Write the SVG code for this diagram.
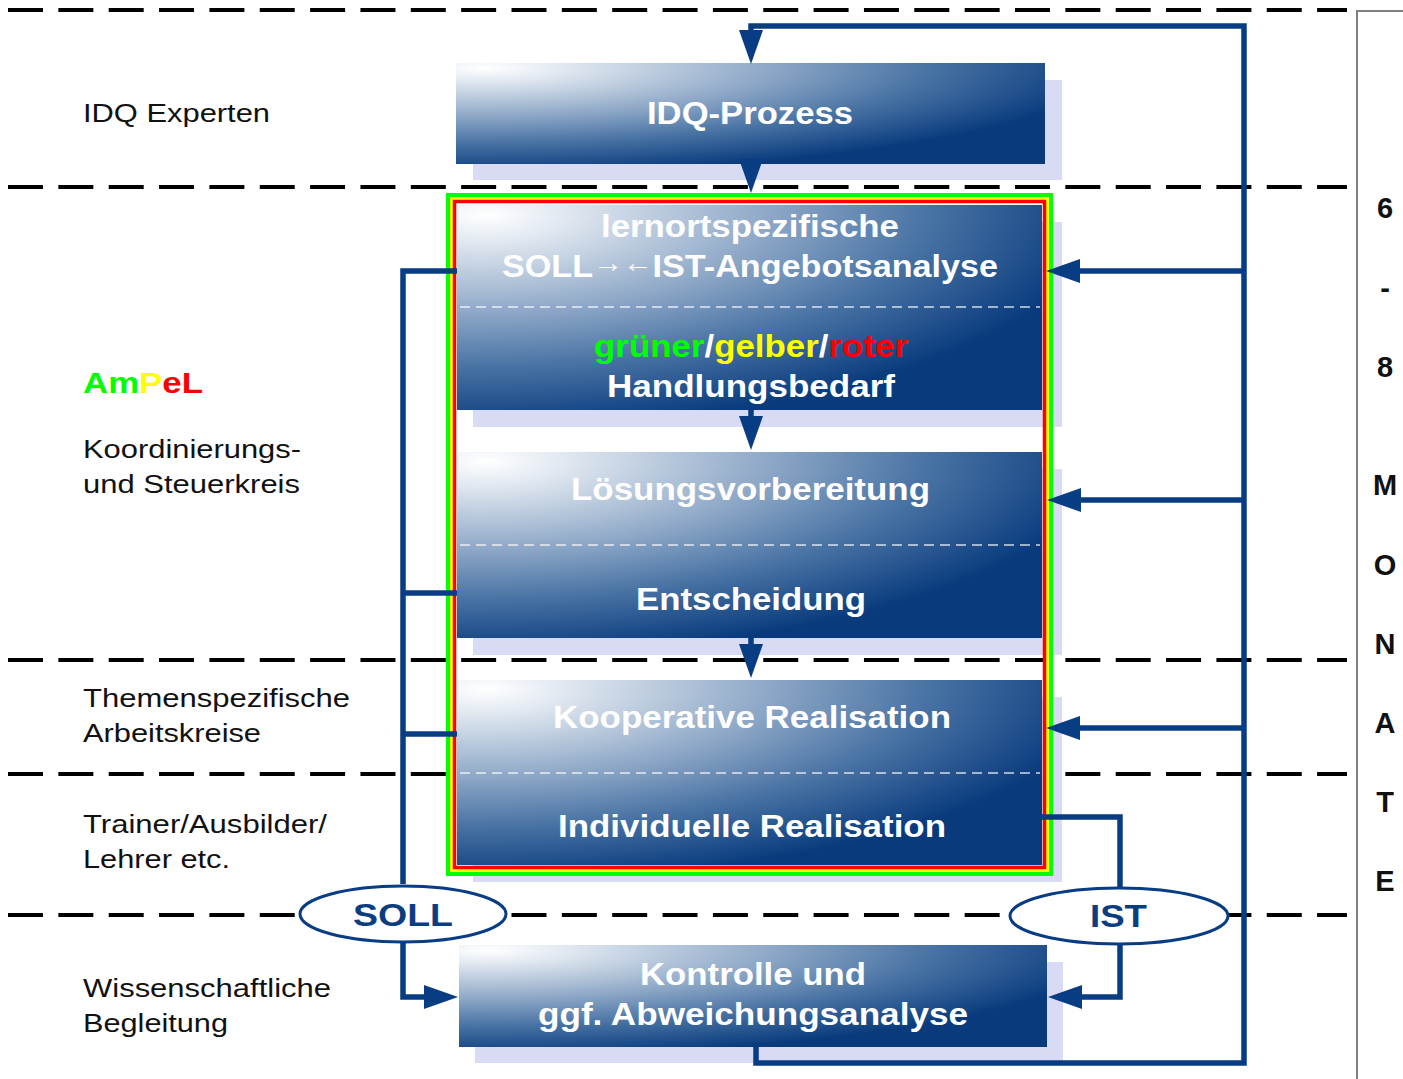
<svg xmlns="http://www.w3.org/2000/svg" width="1403" height="1079" viewBox="0 0 1403 1079">
<defs>
<style>
.lane{stroke:#000;stroke-width:4;stroke-dasharray:35 15.35;fill:none}
.shadow{fill:#d9dbf5}
.box{fill:url(#boxFill)}
.sep{stroke:#ffffff;stroke-opacity:0.8;stroke-width:1.5;stroke-dasharray:10 6;fill:none}
.bt{font-family:"Liberation Sans",Arial,sans-serif;font-weight:bold;font-size:31px;fill:#fff}
.lt{font-family:"Liberation Sans",Arial,sans-serif;font-size:26px;fill:#111}
.mt{font-family:"Liberation Sans",Arial,sans-serif;font-weight:bold;font-size:29px;fill:#111;text-anchor:middle}
.et{font-family:"Liberation Sans",Arial,sans-serif;font-weight:bold;font-size:32px;fill:#0b3d80}
.con{stroke:#083d84;stroke-width:5.5;fill:none}
.ell{fill:#fff;stroke:#083d84;stroke-width:3}
</style>
<radialGradient id="boxFill" cx="0.02" cy="0" r="1.1" fx="0.05" fy="0.05">
<stop offset="0" stop-color="#ffffff"/>
<stop offset="0.12" stop-color="#e2e9f1"/>
<stop offset="0.45" stop-color="#8ea8c7"/>
<stop offset="0.72" stop-color="#4570a2"/>
<stop offset="1" stop-color="#083a7c"/>
</radialGradient>
<marker id="ah" markerUnits="userSpaceOnUse" markerWidth="34" markerHeight="24" refX="14" refY="12" orient="auto">
<path d="M0,0 L34,12 L0,24 z" fill="#083d84"/>
</marker>
</defs>
<rect width="1403" height="1079" fill="#fff"/>

<g id="lanes">
<line class="lane" x1="8" y1="10" x2="1347" y2="10"/>
<line class="lane" x1="8" y1="187" x2="1347" y2="187"/>
<line class="lane" x1="8" y1="660" x2="1347" y2="660"/>
<line class="lane" x1="8" y1="774" x2="1347" y2="774"/>
<line class="lane" x1="8" y1="915" x2="1347" y2="915"/>
<path d="M1403,11 H1357 V1079" stroke="#808080" stroke-width="2" fill="none"/>
</g>

<g id="lane-labels">
<text class="lt" x="83" y="122" textLength="187" lengthAdjust="spacingAndGlyphs">IDQ Experten</text>
<text x="83" y="393" textLength="120" lengthAdjust="spacingAndGlyphs" style="font-family:'Liberation Sans',Arial,sans-serif;font-weight:bold;font-size:30px"><tspan fill="#00ff00">Am</tspan><tspan fill="#ffff00">P</tspan><tspan fill="#ff0000">eL</tspan></text>
<text class="lt" x="83" y="458" textLength="218" lengthAdjust="spacingAndGlyphs">Koordinierungs-</text>
<text class="lt" x="83" y="493" textLength="217" lengthAdjust="spacingAndGlyphs">und Steuerkreis</text>
<text class="lt" x="83" y="707" textLength="267" lengthAdjust="spacingAndGlyphs">Themenspezifische</text>
<text class="lt" x="83" y="742" textLength="178" lengthAdjust="spacingAndGlyphs">Arbeitskreise</text>
<text class="lt" x="83" y="833" textLength="244" lengthAdjust="spacingAndGlyphs">Trainer/Ausbilder/</text>
<text class="lt" x="83" y="868" textLength="147" lengthAdjust="spacingAndGlyphs">Lehrer etc.</text>
<text class="lt" x="83" y="997" textLength="248" lengthAdjust="spacingAndGlyphs">Wissenschaftliche</text>
<text class="lt" x="83" y="1032" textLength="145" lengthAdjust="spacingAndGlyphs">Begleitung</text>
</g>

<g id="months">
<text class="mt" x="1385" y="218">6</text>
<text class="mt" x="1385" y="298">-</text>
<text class="mt" x="1385" y="377">8</text>
<text class="mt" x="1385" y="495">M</text>
<text class="mt" x="1385" y="575">O</text>
<text class="mt" x="1385" y="654">N</text>
<text class="mt" x="1385" y="733">A</text>
<text class="mt" x="1385" y="812">T</text>
<text class="mt" x="1385" y="891">E</text>
</g>

<g id="node-idq">
<rect class="shadow" x="473" y="80" width="589" height="100"/>
<rect class="box" x="456" y="63" width="589" height="101"/>
<text class="bt" x="647" y="124" textLength="206" lengthAdjust="spacingAndGlyphs">IDQ-Prozess</text>
</g>

<g id="node-analyse">
<rect class="shadow" x="473" y="222" width="589" height="205"/>
<rect class="box" x="457" y="205" width="585" height="205"/>
<line class="sep" x1="460" y1="307" x2="1040" y2="307"/>
<text class="bt" x="601" y="237" textLength="298" lengthAdjust="spacingAndGlyphs">lernortspezifische</text>
<text class="bt" x="502" y="277" textLength="496" lengthAdjust="spacingAndGlyphs">SOLL<tspan font-size="27" dy="-5">→</tspan><tspan font-size="27">←</tspan><tspan dy="5">IST-Angebotsanalyse</tspan></text>
<text class="bt" x="594" y="357" textLength="314" lengthAdjust="spacingAndGlyphs"><tspan fill="#00ff00">grüner</tspan>/<tspan fill="#ffff00">gelber</tspan>/<tspan fill="#ff0000">roter</tspan></text>
<text class="bt" x="607" y="397" textLength="288" lengthAdjust="spacingAndGlyphs">Handlungsbedarf</text>
</g>

<g id="node-loesung">
<rect class="shadow" x="473" y="469" width="589" height="186"/>
<rect class="box" x="457" y="452" width="585" height="186"/>
<line class="sep" x1="460" y1="545" x2="1040" y2="545"/>
<text class="bt" x="571" y="500" textLength="359" lengthAdjust="spacingAndGlyphs">Lösungsvorbereitung</text>
<text class="bt" x="636" y="610" textLength="230" lengthAdjust="spacingAndGlyphs">Entscheidung</text>
</g>

<g id="node-realisation">
<rect class="shadow" x="473" y="697" width="589" height="185"/>
<rect class="box" x="457" y="680" width="585" height="185"/>
<line class="sep" x1="460" y1="773" x2="1040" y2="773"/>
<text class="bt" x="553" y="728" textLength="398" lengthAdjust="spacingAndGlyphs">Kooperative Realisation</text>
<text class="bt" x="558" y="837" textLength="388" lengthAdjust="spacingAndGlyphs">Individuelle Realisation</text>
</g>

<g id="ampel-frame">
<rect x="448" y="195" width="603" height="679" fill="none" stroke="#00ff00" stroke-width="4"/>
<rect x="451.5" y="198.5" width="596" height="672" fill="none" stroke="#ffff00" stroke-width="3"/>
<rect x="454.5" y="201.5" width="590" height="666" fill="none" stroke="#ff0000" stroke-width="3.5"/>
</g>

<g id="node-kontrolle">
<rect class="shadow" x="475" y="962" width="588" height="101"/>
<rect class="box" x="459" y="945" width="588" height="102"/>
<text class="bt" x="640" y="985" textLength="226" lengthAdjust="spacingAndGlyphs">Kontrolle und</text>
<text class="bt" x="538" y="1025" textLength="430" lengthAdjust="spacingAndGlyphs">ggf. Abweichungsanalyse</text>
</g>

<g id="connectors">
<path class="con" d="M756,1047 V1063 H1244 V26 H751 V44" marker-end="url(#ah)"/>
<path class="con" d="M1244,271 H1066" marker-end="url(#ah)"/>
<path class="con" d="M1244,500 H1067" marker-end="url(#ah)"/>
<path class="con" d="M1244,728 H1066" marker-end="url(#ah)"/>
<path class="con" d="M751,164 V173" marker-end="url(#ah)"/>
<path class="con" d="M751,410 V430" marker-end="url(#ah)"/>
<path class="con" d="M751,638 V658" marker-end="url(#ah)"/>
<path class="con" d="M457,271 H403 V884"/>
<path class="con" d="M403,593 H457"/>
<path class="con" d="M403,734 H457"/>
<path class="con" d="M403,942 V997 H438" marker-end="url(#ah)"/>
<path class="con" d="M1042,817 H1120 V890"/>
<path class="con" d="M1120,942 V997 H1068" marker-end="url(#ah)"/>
</g>

<g id="node-soll">
<ellipse class="ell" cx="403" cy="914" rx="103" ry="28"/>
<text class="et" x="353" y="926" textLength="100" lengthAdjust="spacingAndGlyphs">SOLL</text>
</g>

<g id="node-ist">
<ellipse class="ell" cx="1119" cy="916" rx="109" ry="28"/>
<text class="et" x="1090" y="927" textLength="57" lengthAdjust="spacingAndGlyphs">IST</text>
</g>
</svg>
